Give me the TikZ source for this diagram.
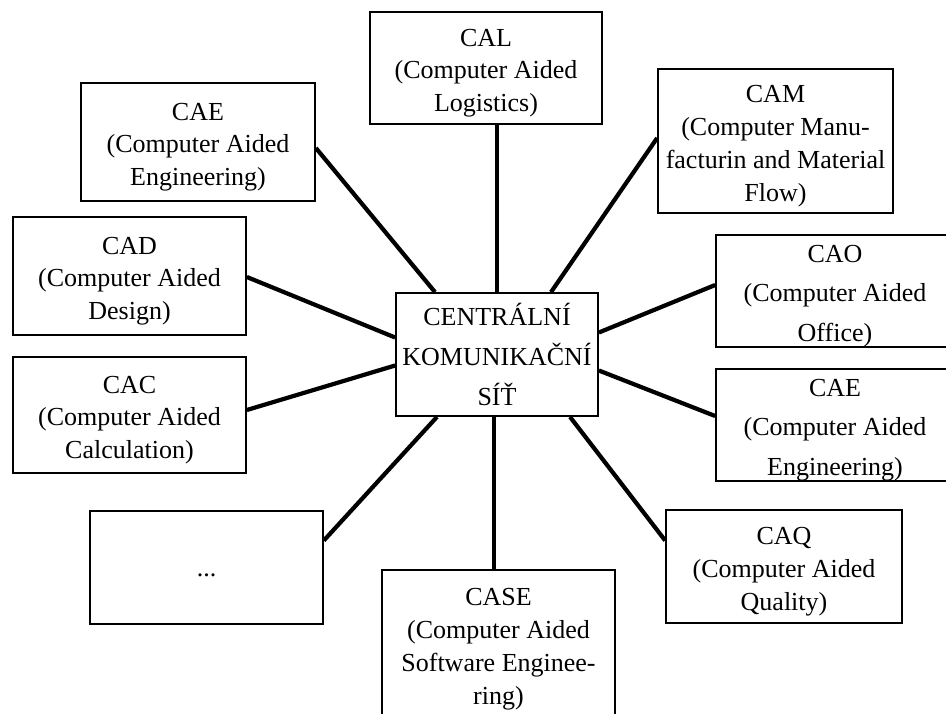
\documentclass[tikz,border=0pt]{standalone}
\usepackage{fontspec}
\setmainfont{Liberation Serif}
\usetikzlibrary{calc}
\newcommand\toplift{\rule{0pt}{15.6pt}}
\begin{document}
\begin{tikzpicture}[x=0.02cm, y=-0.02cm,
  box/.style={draw, line width=1pt, align=center, inner xsep=0pt, inner ysep=-4pt,
    font=\fontsize{14.8}{18.7}\selectfont},
  airy/.style={font=\fontsize{14.8}{22.7}\selectfont},
  link/.style={line width=2.4pt}]
\clip (0,0) rectangle (946,713);
\useasboundingbox (0,0) rectangle (946,713);

% central node
\node[box, airy, minimum width=4.04cm, minimum height=2.46cm] (hub) at (497,354.5)
  {CENTRÁLNÍ\\KOMUNIKAČNÍ\\SÍŤ};

% surrounding systems
\node[box, minimum width=4.68cm, minimum height=2.36cm] (cael) at (198,142)
  {\toplift CAE\\(Computer Aided\\Engineering)};
\node[box, minimum width=4.64cm, minimum height=2.24cm] (cal) at (486,68)
  {\toplift CAL\\(Computer Aided\\Logistics)};
\node[box, minimum width=4.70cm, minimum height=2.88cm] (cam) at (775.5,141)
  {\toplift CAM\\(Computer Manu-\\facturin and Material\\Flow)};
\node[box, airy, minimum width=4.76cm, minimum height=2.24cm] (cao) at (835,291)
  {\toplift CAO\\(Computer Aided\\Office)};
\node[box, airy, minimum width=4.76cm, minimum height=2.24cm] (caer) at (835,425)
  {\toplift CAE\\(Computer Aided\\Engineering)};
\node[box, minimum width=4.72cm, minimum height=2.26cm] (caq) at (784,566.5)
  {\toplift CAQ\\(Computer Aided\\Quality)};
\node[box, minimum width=4.66cm, minimum height=2.96cm] (case) at (498.5,644)
  {\toplift CASE\\(Computer Aided\\Software Enginee-\\ring)};
\node[box, minimum width=4.66cm, minimum height=2.26cm] (more) at (206.5,567.5)
  {\smash{\raisebox{-5pt}{...}}};
\node[box, minimum width=4.66cm, minimum height=2.32cm] (cac) at (129.5,415)
  {\toplift CAC\\(Computer Aided\\Calculation)};
\node[box, minimum width=4.66cm, minimum height=2.36cm] (cad) at (129.5,276)
  {\toplift CAD\\(Computer Aided\\Design)};

% foot points of the two vertical links
\coordinate (hn) at (hub.north);
\coordinate (hs) at ($(hub.south)+(-3,0)$);

% connections to the central network
\draw[link] ($(cael.east)+(0,6)$) -- ($(hub.north)+(-62,0)$);
\draw[link] (hn) -- (hn |- cal.south);
\draw[link] ($(cam.west)+(0,-3)$) -- ($(hub.north)+(54,0)$);
\draw[link] ($(cao.west)+(0,-6)$) -- ($(hub.east)+(0,-22)$);
\draw[link] ($(cad.east)+(0,1)$) -- ($(hub.west)+(0,-17)$);
\draw[link] ($(cac.east)+(0,-5)$) -- ($(hub.west)+(0,11)$);
\draw[link] ($(more.east)+(0,-27)$) -- ($(hub.south)+(-60,0)$);
\draw[link] (hs) -- (hs |- case.north);
\draw[link] ($(hub.east)+(0,16)$) -- ($(caer.west)+(0,-9)$);
\draw[link] ($(hub.south)+(73,0)$) -- ($(caq.west)+(0,-26)$);
\end{tikzpicture}
\end{document}
